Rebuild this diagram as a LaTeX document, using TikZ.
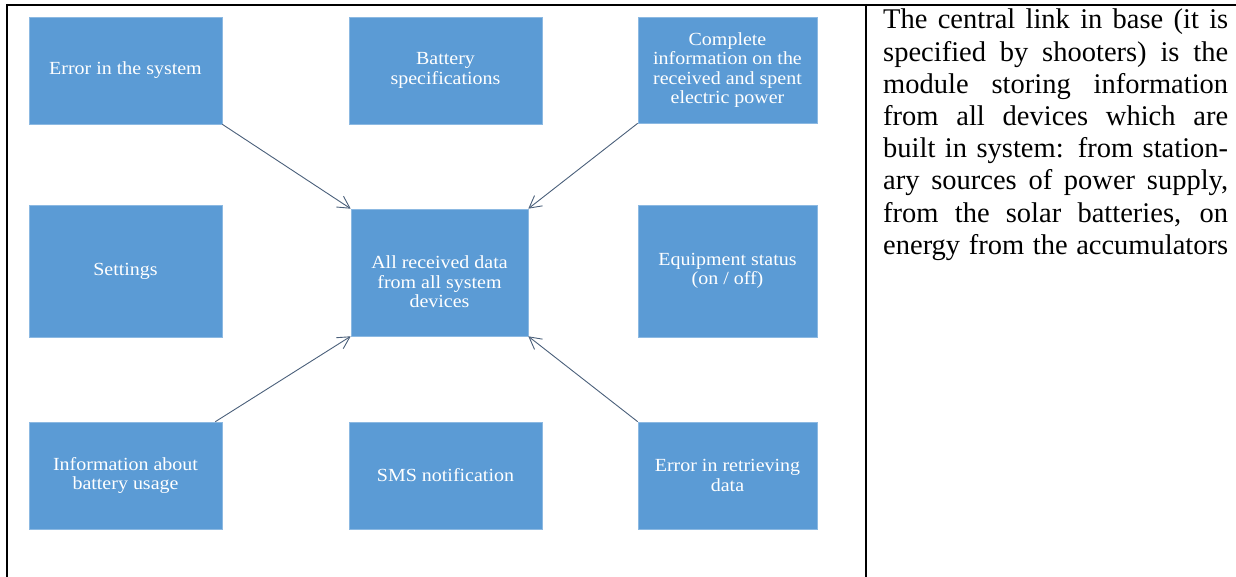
\documentclass[tikz,border=0pt]{standalone}
\usepackage{fontspec}
\setmainfont{Liberation Serif}
\newfontfamily\boxfont[FakeStretch=1.08]{Liberation Serif}
\usetikzlibrary{arrows.meta}
\definecolor{boxblue}{HTML}{5B9BD5}
\definecolor{arrowgray}{HTML}{4A5F7A}
\tikzset{
  blockbox/.style={fill=boxblue, draw=boxblue!70!white, line width=0.6pt,
    text=white, align=center, inner sep=0pt,
    font=\boxfont\fontsize{18.5}{19.5}\selectfont},
  feed/.style={draw=arrowgray, line width=0.9pt,
    -{Straight Barb[length=12pt,width=13pt,line width=0.9pt]}},
  frameline/.style={line width=2.4pt, black}
}
\begin{document}
\begin{tikzpicture}[x=1pt,y=-1pt]
\useasboundingbox (0,0) rectangle (1236,577);
% frame
\coordinate (tl) at (7,5);
\coordinate (tr) at (1236,5);
\coordinate (bl) at (7,577);
\coordinate (dt) at (866,5);
\coordinate (db) at (866,577);
\draw[frameline] (tl) -- (tr);
\draw[frameline] ([yshift=1.2pt]tl) -- (bl);
\draw[frameline] ([yshift=1.2pt]dt) -- (db);

% boxes (row 1)
\node[blockbox, minimum width=193pt, minimum height=107pt] (err) at (125.5,70.5) {Error in the system};
\node[blockbox, minimum width=193pt, minimum height=107pt] (bat) at (445.5,70.5) {Battery\\specifications};
\node[blockbox, minimum width=179pt, minimum height=106pt] (comp) at (727.5,70) {Complete\\information on the\\received and spent\\electric power};
% row 2
\node[blockbox, minimum width=193pt, minimum height=132pt] (set) at (125.5,271) {Settings};
\node[blockbox, minimum width=177pt, minimum height=127pt] (ctr) at (439.5,272.5) {};
\node[text=white, align=center, inner sep=0pt, font=\boxfont\fontsize{18.5}{19.5}\selectfont] (ctrtext) at (439.5,282) {All received data\\from all system\\devices};
\node[blockbox, minimum width=179pt, minimum height=132pt] (equ) at (727.5,271) {Equipment status\\(on / off)};
% row 3
\node[blockbox, minimum width=193pt, minimum height=107pt] (info) at (125.5,475.5) {Information about\\battery usage};
\node[blockbox, minimum width=193pt, minimum height=107pt] (sms) at (445.5,475.5) {SMS notification};
\node[blockbox, minimum width=179pt, minimum height=107pt] (retr) at (727.5,475.5) {Error in retrieving\\data};

% connectors
\draw[feed] (err.south east) -- (ctr.north west);
\draw[feed] (comp.south west) -- (ctr.north east);
\draw[feed] ([xshift=-7pt]info.north east) -- (ctr.south west);
\draw[feed] (retr.north west) -- (ctr.south east);

% right column text
\node[anchor=base west, inner sep=0pt] (txt) at (883,29) {\parbox[t]{345pt}{\fontsize{28.5}{32.2}\selectfont
\makebox[345pt][s]{The central link in base (it is}\\
\makebox[345pt][s]{specified by shooters) is the}\\
\makebox[345pt][s]{module storing information}\\
\makebox[345pt][s]{from all devices which are}\\
\makebox[345pt][s]{built in system: from station-}\\
\makebox[345pt][s]{ary sources of power supply,}\\
\makebox[345pt][s]{from the solar batteries, on}\\
\makebox[345pt][s]{energy from the accumulators}}};
\end{tikzpicture}
\end{document}
